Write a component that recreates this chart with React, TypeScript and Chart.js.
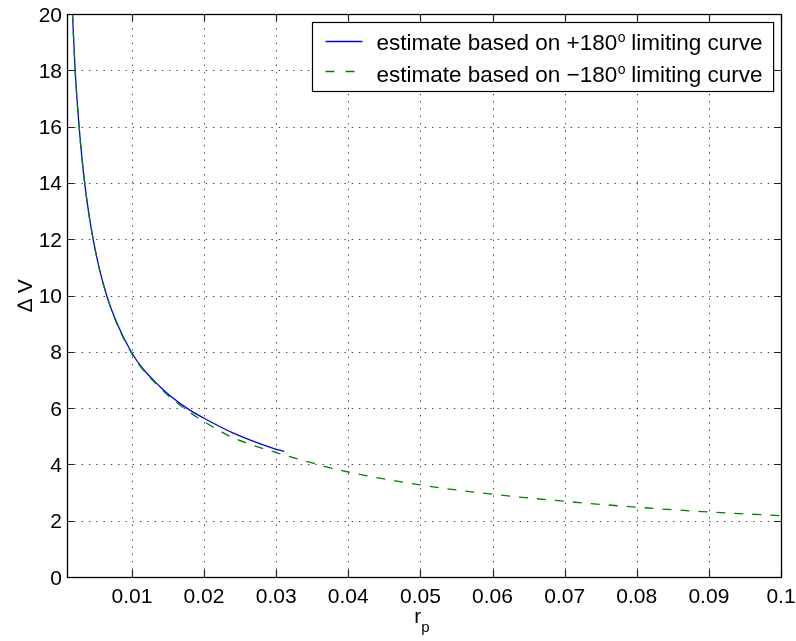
import { useEffect, useRef } from "react";
import { Chart, registerables } from "chart.js";

Chart.register(...registerables);

const FONT = '"Liberation Sans", Arial, Helvetica, sans-serif';

// ΔV estimate from the +180° limiting curve
const plusX = [0.00176, 0.00213, 0.00268, 0.00345, 0.00462, 0.0065, 0.0099, 0.0139, 0.0176, 0.02, 0.024, 0.0296, 0.0311];
const plusY = [20, 18, 16, 14, 12, 10, 8, 6.76, 6, 5.64, 5.12, 4.57, 4.46];

// ΔV estimate from the −180° limiting curve
const minusX = [0.00176, 0.00213, 0.00268, 0.00345, 0.00462, 0.0065, 0.0099, 0.0139, 0.0172, 0.02, 0.024, 0.03, 0.035, 0.04, 0.05, 0.06, 0.07, 0.08, 0.09, 0.1];
const minusY = [20, 18, 16, 14, 12, 10, 7.97, 6.72, 6, 5.52, 4.95, 4.42, 4.05, 3.73, 3.27, 2.94, 2.69, 2.48, 2.31, 2.18];

const xTicks = [0.01, 0.02, 0.03, 0.04, 0.05, 0.06, 0.07, 0.08, 0.09, 0.1];
const xTickLabels = ["0.01", "0.02", "0.03", "0.04", "0.05", "0.06", "0.07", "0.08", "0.09", "0.1"];
const yTicks = [0, 2, 4, 6, 8, 10, 12, 14, 16, 18, 20];
const yTickLabels = ["0", "2", "4", "6", "8", "10", "12", "14", "16", "18", "20"];

const legendHeads = ["estimate based on +180", "estimate based on \u2212180"];
const legendSup = "o";
const legendTail = " limiting curve";

const X_MIN = 0.001;
const X_MAX = 0.1;
const Y_MIN = 0;
const Y_MAX = 20;

const BLUE = "#0000ff";
const GREEN = "#008000";

const framePlugin = {
  id: "matlabFrame",
  beforeDatasetsDraw(chart: any) {
    const { ctx, chartArea: a, scales } = chart;
    const x = scales.x;
    const y = scales.y;
    ctx.save();
    ctx.strokeStyle = "rgba(0,0,0,0.72)";
    ctx.lineWidth = 1;
    ctx.setLineDash([1.4, 5.9]);
    for (const v of xTicks) {
      const px = Math.round(x.getPixelForValue(v)) + 0.5;
      ctx.beginPath();
      ctx.moveTo(px, a.bottom);
      ctx.lineTo(px, a.top);
      ctx.stroke();
    }
    for (const v of yTicks) {
      const py = Math.round(y.getPixelForValue(v)) + 0.5;
      ctx.beginPath();
      ctx.moveTo(a.left, py);
      ctx.lineTo(a.right, py);
      ctx.stroke();
    }
    ctx.restore();
  },
  afterDraw(chart: any) {
    const { ctx, chartArea: a, scales } = chart;
    const x = scales.x;
    const y = scales.y;
    ctx.save();

    // inward tick marks on all four sides
    ctx.strokeStyle = "#222";
    ctx.lineWidth = 1.2;
    const tl = 7;
    for (const v of xTicks) {
      const px = Math.round(x.getPixelForValue(v)) + 0.5;
      ctx.beginPath();
      ctx.moveTo(px, a.bottom);
      ctx.lineTo(px, a.bottom - tl);
      ctx.moveTo(px, a.top);
      ctx.lineTo(px, a.top + tl);
      ctx.stroke();
    }
    for (const v of yTicks) {
      const py = Math.round(y.getPixelForValue(v)) + 0.5;
      ctx.beginPath();
      ctx.moveTo(a.left, py);
      ctx.lineTo(a.left + tl, py);
      ctx.moveTo(a.right, py);
      ctx.lineTo(a.right - tl, py);
      ctx.stroke();
    }

    // axes box
    ctx.strokeStyle = "#000";
    ctx.lineWidth = 1.3;
    ctx.strokeRect(Math.round(a.left) + 0.5, Math.round(a.top) + 0.5, Math.round(a.right - a.left), Math.round(a.bottom - a.top));

    // tick labels
    ctx.fillStyle = "#000";
    ctx.font = `21px ${FONT}`;
    ctx.textBaseline = "alphabetic";
    ctx.textAlign = "center";
    xTicks.forEach((v, i) => {
      ctx.fillText(xTickLabels[i], x.getPixelForValue(v), a.bottom + 26);
    });
    ctx.textAlign = "right";
    yTicks.forEach((v, i) => {
      ctx.fillText(yTickLabels[i], a.left - 5, y.getPixelForValue(v) + 7.5);
    });

    // x axis title: r with subscript p
    const cx = (a.left + a.right) / 2 - 2;
    ctx.font = `21px ${FONT}`;
    const rW = ctx.measureText("r").width;
    ctx.font = `15px ${FONT}`;
    const pW = ctx.measureText("p").width;
    const startX = cx - (rW + pW) / 2;
    ctx.textAlign = "left";
    ctx.font = `21px ${FONT}`;
    ctx.fillText("r", startX, a.bottom + 46);
    ctx.font = `15px ${FONT}`;
    ctx.fillText("p", startX + rW, a.bottom + 55);

    // y axis title
    ctx.save();
    ctx.translate(32, (a.top + a.bottom) / 2);
    ctx.rotate(-Math.PI / 2);
    ctx.textAlign = "center";
    ctx.font = `21px ${FONT}`;
    ctx.fillText("\u2206 V", 0, 0);
    ctx.restore();

    // legend
    const fontMain = `22.5px ${FONT}`;
    const fontSup = `14px ${FONT}`;
    const widths = legendHeads.map((h) => {
      ctx.font = fontMain;
      const w1 = ctx.measureText(h).width;
      const w3 = ctx.measureText(legendTail).width;
      ctx.font = fontSup;
      const w2 = ctx.measureText(legendSup).width;
      return w1 + w2 + w3;
    });
    const textW = Math.max(...widths);
    const boxW = 13 + 37 + 14 + textW + 11;
    const boxH = 69;
    const bx = Math.round(a.right - 8 - boxW) + 0.5;
    const by = Math.round(a.top + 8) + 0.5;
    ctx.fillStyle = "#fff";
    ctx.fillRect(bx, by, boxW, boxH);
    ctx.strokeStyle = "#000";
    ctx.lineWidth = 1.2;
    ctx.strokeRect(bx, by, boxW, boxH);

    const rows = [
      { color: BLUE, dash: [] as number[], lineY: by + 19, base: by + 27 },
      { color: GREEN, dash: [9, 11], lineY: by + 49, base: by + 59 },
    ];
    rows.forEach((r, i) => {
      ctx.strokeStyle = r.color;
      ctx.lineWidth = 1.3;
      ctx.setLineDash(r.dash);
      ctx.beginPath();
      ctx.moveTo(bx + 13, r.lineY);
      ctx.lineTo(bx + 50, r.lineY);
      ctx.stroke();
      ctx.setLineDash([]);
      ctx.fillStyle = "#000";
      ctx.textAlign = "left";
      let tx = bx + 64;
      ctx.font = fontMain;
      ctx.fillText(legendHeads[i], tx, r.base);
      tx += ctx.measureText(legendHeads[i]).width;
      ctx.font = fontSup;
      ctx.fillText(legendSup, tx + 0.5, r.base - 8);
      tx += ctx.measureText(legendSup).width;
      ctx.font = fontMain;
      ctx.fillText(legendTail, tx, r.base);
    });

    ctx.restore();
  },
};

export default function App() {
  const ref = useRef<HTMLCanvasElement>(null);

  useEffect(() => {
    document.body.style.margin = "0";
    const canvas = ref.current;
    if (!canvas) return;
    const chart = new Chart(canvas, {
      type: "line",
      data: {
        datasets: [
          {
            label: "estimate based on +180° limiting curve",
            data: plusX.map((v, i) => ({ x: v, y: plusY[i] })),
            borderColor: BLUE,
            borderWidth: 1.3,
            pointRadius: 0,
            fill: false,
            cubicInterpolationMode: "monotone",
            order: 1,
          },
          {
            label: "estimate based on −180° limiting curve",
            data: minusX.map((v, i) => ({ x: v, y: minusY[i] })),
            borderColor: GREEN,
            borderWidth: 1.3,
            borderDash: [9, 9],
            pointRadius: 0,
            fill: false,
            cubicInterpolationMode: "monotone",
            order: 0,
          },
        ],
      },
      options: {
        animation: false,
        responsive: false,
        devicePixelRatio: 1,
        layout: { padding: { top: 14, right: 15, left: 0, bottom: 0 } },
        plugins: { legend: { display: false }, tooltip: { enabled: false } },
        scales: {
          x: {
            type: "linear",
            min: X_MIN,
            max: X_MAX,
            afterBuildTicks: (s: any) => {
              s.ticks = xTicks.map((v) => ({ value: v }));
            },
            afterFit: (s: any) => {
              s.height = 64;
            },
            grid: { display: false },
            border: { display: false },
            ticks: { display: false },
          },
          y: {
            type: "linear",
            min: Y_MIN,
            max: Y_MAX,
            afterBuildTicks: (s: any) => {
              s.ticks = yTicks.map((v) => ({ value: v }));
            },
            afterFit: (s: any) => {
              s.width = 67;
            },
            grid: { display: false },
            border: { display: false },
            ticks: { display: false },
          },
        },
      } as any,
      plugins: [framePlugin],
    });
    return () => chart.destroy();
  }, []);

  return (
    <div style={{ width: 796, height: 641, background: "#fff" }}>
      <canvas ref={ref} width={796} height={641} style={{ display: "block" }} />
    </div>
  );
}
